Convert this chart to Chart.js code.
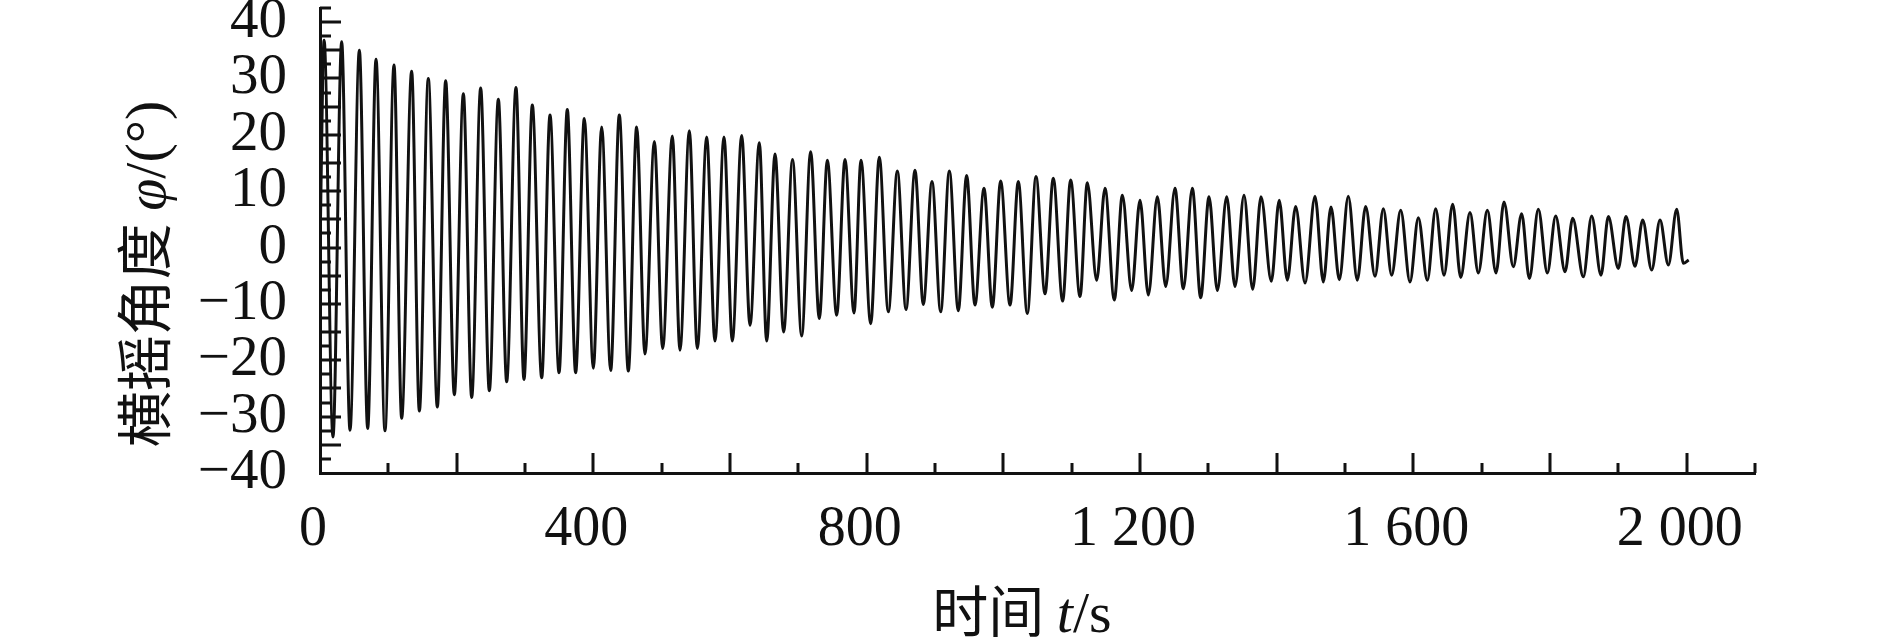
<!DOCTYPE html>
<html>
<head>
<meta charset="utf-8">
<script src="https://cdn.jsdelivr.net/npm/chart.js@4.4.1/dist/chart.umd.min.js"></script>
<style>
html, body { margin: 0; padding: 0; background: #fff; }
#wrap { width: 1890px; height: 638px; }
</style>
</head>
<body>
<div id="wrap"><canvas id="roll"></canvas></div>
<script>
// roll angle record (peaks and troughs)
var timeS = [
  0, 6, 19, 31.7, 43.9, 57.6, 69.8, 82.0, 95.1, 108.3, 119.5, 134.1, 145.4, 158.5, 171.7, 183.9, 196.6,
  209.8, 222.0, 235.1, 247.8, 261.0, 273.2, 286.8, 298.5, 310.7, 324.4, 336.6, 349.8, 361.9, 374.1,
  386.8, 400.0, 412.2, 425.4, 438.0, 451.2, 463.4, 475.6, 489.3, 501.5, 515.6, 526.8, 540.5, 552.2,
  565.9, 578.0, 591.2, 603.4, 617.1, 629.3, 642.9, 653.7, 665.9, 678.5, 691.5, 704.9, 718.0, 730.7,
  742.5, 756.1, 768.3, 781.5, 791.7, 805.9, 818.5, 831.7, 844.9, 857.6, 870.7, 882.9, 895.6, 908.3,
  921.0, 934.1, 946.3, 958.5, 971.7, 983.9, 996.1, 1009.8, 1021.9, 1035.1, 1047.8, 1061.0, 1073.1,
  1086.8, 1098.5, 1112.2, 1122.9, 1136.6, 1148.8, 1162.4, 1174.2, 1187.8, 1200.0, 1212.2, 1225.4,
  1237.6, 1251.2, 1263.4, 1276.6, 1288.8, 1301.0, 1313.2, 1326.9, 1339.0, 1352.2, 1364.9, 1377.1,
  1392.2, 1403.7, 1415.6, 1427.8, 1441.5, 1456.1, 1468.3, 1479.5, 1491.7, 1504.8, 1518.0, 1530.2,
  1543.9, 1556.1, 1568.3, 1581.5, 1595.1, 1607.3, 1620.5, 1632.7, 1644.9, 1657.6, 1669.3, 1682.9,
  1695.1, 1708.3, 1721.0, 1732.7, 1746.3, 1758.5, 1769.8, 1782.9, 1796.1, 1808.3, 1822.0, 1833.2,
  1848.8, 1861.0, 1874.6, 1885.4, 1900.0, 1911.2, 1924.4, 1935.6, 1948.8, 1961.0, 1973.2, 1985.4,
  1995.1, 2003
];
var rollDeg = [
  0, 36.8, -33.6, 36.5, -32.4, 35.0, -32.1, 33.4, -32.5, 32.4, -30.3, 31.3, -29.0, 30.0, -28.3, 29.6, -26.1,
  27.3, -26.6, 28.3, -25.4, 26.3, -23.8, 28.4, -23.4, 25.3, -23.1, 23.5, -22.2, 24.5, -22.2,
  22.9, -21.4, 21.4, -21.8, 23.5, -21.9, 21.4, -18.9, 18.8, -17.9, 19.8, -18.2, 20.7, -17.9,
  19.6, -16.6, 19.6, -16.6, 19.9, -13.8, 18.6, -16.6, 16.6, -15.0, 15.6, -15.7, 17.0, -12.6,
  15.5, -12.0, 15.6, -11.6, 15.5, -13.5, 16.0, -11.4, 13.6, -11.0, 13.7, -10.1, 11.7, -11.4,
  13.6, -11.2, 12.8, -10.2, 10.5, -10.6, 11.8, -10.2, 11.7, -11.7, 12.6, -8.2, 12.3,
  -9.5, 12.0, -8.7, 11.5, -5.8, 10.5, -9.3, 9.3, -7.6, 8.4, -8.4, 9.0,
  -6.9, 10.5, -7.3, 10.5, -8.9, 9.0, -7.6, 9.0, -6.9, 9.3, -7.4, 9.0,
  -6.0, 8.4, -5.8, 7.3, -6.3, 9.1, -6.1, 7.2, -5.7, 9.1, -5.8, 7.3,
  -5.1, 6.9, -4.9, 6.6, -6.1, 5.3, -5.8, 6.9, -4.9, 7.7, -5.3, 6.2,
  -4.5, 6.6, -4.5, 8.1, -3.4, 6.0, -5.5, 6.8, -4.5, 5.6, -4.3, 5.2,
  -5.2, 5.6, -4.9, 5.5, -3.7, 5.5, -3.3, 4.9, -4.0, 4.9, -3.1, 6.8,
  -2.8, -2.2
];

var xLabelValues = [0, 400, 800, 1200, 1600, 2000];
var xLabelText = ['0', '400', '800', '1 200', '1 600', '2 000'];
var yLabelValues = [40, 30, 20, 10, 0, -10, -20, -30, -40];
var yLabelText = ['40', '30', '20', '10', '0', '\u221210', '\u221220', '\u221230', '\u221240'];

var points = [];
for (var i = 0; i < timeS.length; i++) {
  points.push({x: timeS[i], y: rollDeg[i]});
}

var serif = 'Liberation Serif';
var cjk = 'Noto Sans CJK SC';

function drawRuns(ctx, runs, cx, baseY) {
  var total = 0;
  runs.forEach(function(r) {
    ctx.font = r.font;
    r.w = ctx.measureText(r.text).width;
    total += r.w;
  });
  var x = cx - total / 2;
  ctx.textAlign = 'left';
  ctx.textBaseline = 'alphabetic';
  runs.forEach(function(r) {
    ctx.font = r.font;
    ctx.fillText(r.text, x, baseY);
    x += r.w;
  });
}

// inward tick marks and the two axis titles
var axisMarks = {
  id: 'axisMarks',
  afterDraw: function(chart) {
    var ctx = chart.ctx;
    var xs = chart.scales.x, ys = chart.scales.y;
    var a = chart.chartArea;
    ctx.save();
    ctx.strokeStyle = '#111';
    ctx.lineWidth = 3;
    ctx.beginPath();
    ys.ticks.forEach(function(t) {
      if (t.value === ys.min) return;
      var py = Math.round(ys.getPixelForValue(t.value));
      var len = (t.value % 5 === 0) ? 21 : 11;
      ctx.moveTo(a.left, py);
      ctx.lineTo(a.left + len, py);
    });
    xs.ticks.forEach(function(t) {
      if (t.value === xs.min) return;
      var px = Math.round(xs.getPixelForValue(t.value));
      var len = (t.value % 200 === 0) ? 20 : 10;
      ctx.moveTo(px, a.bottom);
      ctx.lineTo(px, a.bottom - len);
    });
    ctx.stroke();

    ctx.fillStyle = '#111';
    drawRuns(ctx, [
      {text: '时间 ', font: '56px "' + cjk + '"'},
      {text: 't', font: 'italic 58px "' + serif + '"'},
      {text: '/s', font: '58px "' + serif + '"'}
    ], 1022, 632);

    ctx.translate(165, 274);
    ctx.rotate(-Math.PI / 2);
    drawRuns(ctx, [
      {text: '横摇角度 ', font: '56px "' + cjk + '"'},
      {text: '\u03c6', font: 'italic 58px "' + serif + '"'},
      {text: '/(\u00b0)', font: '58px "' + serif + '"'}
    ], 0, 0);
    ctx.restore();
  }
};

new Chart(document.getElementById('roll'), {
  type: 'line',
  data: {
    datasets: [{
      data: points,
      borderColor: '#111',
      borderWidth: 3,
      pointRadius: 0,
      fill: false,
      cubicInterpolationMode: 'monotone'
    }]
  },
  options: {
    responsive: true,
    maintainAspectRatio: false,
    animation: false,
    layout: { padding: { top: 8, right: 135, left: 0, bottom: 0 } },
    plugins: {
      legend: { display: false },
      tooltip: { enabled: false }
    },
    scales: {
      x: {
        type: 'linear',
        min: 0,
        max: 2100,
        grid: { display: false },
        border: { display: true, color: '#111', width: 3 },
        ticks: {
          stepSize: 100,
          autoSkip: false,
          maxRotation: 0,
          padding: 16,
          labelOffset: -7,
          color: '#111',
          font: { family: serif, size: 56 },
          callback: function(v) {
            var k = xLabelValues.indexOf(v);
            return k < 0 ? '' : xLabelText[k];
          }
        },
        afterFit: function(s) {
          s.height = 165;
          s.paddingLeft = 0;
          s.paddingRight = 0;
        }
      },
      y: {
        type: 'linear',
        min: -40,
        max: 42.5,
        grid: { display: false },
        border: { display: true, color: '#111', width: 3 },
        ticks: {
          stepSize: 2.5,
          autoSkip: false,
          padding: 25,
          color: '#111',
          font: { family: serif, size: 57 },
          callback: function(v) {
            var k = yLabelValues.indexOf(v);
            return k < 0 ? '' : yLabelText[k];
          }
        },
        afterFit: function(s) {
          s.width = 320;
          s.paddingTop = 0;
          s.paddingBottom = 0;
        }
      }
    }
  },
  plugins: [axisMarks]
});
</script>
</body>
</html>
